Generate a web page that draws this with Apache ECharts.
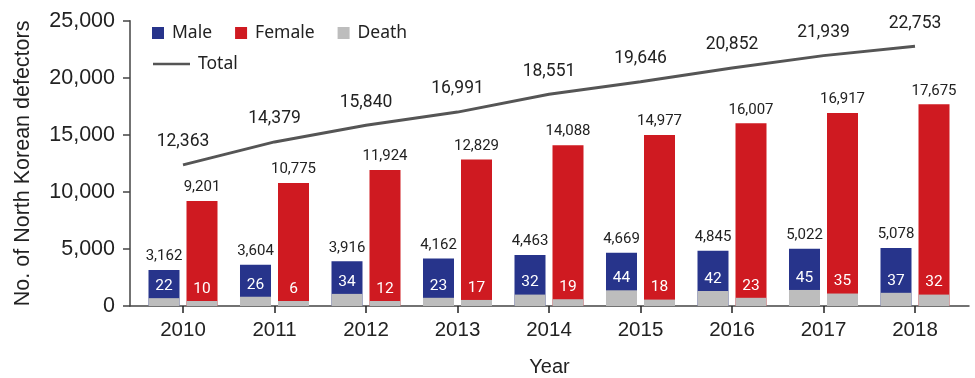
<!DOCTYPE html>
<html>
<head>
<meta charset="utf-8">
<script src="https://cdn.jsdelivr.net/npm/echarts@6/dist/echarts.min.js"></script>
<style>
  html, body { margin: 0; padding: 0; background: #fff; }
  #chart { width: 975px; height: 378px; }
</style>
</head>
<body>
<div id="chart"></div>
<script>
// Annual counts of North Korean defectors, by sex, with deaths
const years = ['2010', '2011', '2012', '2013', '2014', '2015', '2016', '2017', '2018'];
const male = [3162, 3604, 3916, 4162, 4463, 4669, 4845, 5022, 5078];
const female = [9201, 10775, 11924, 12829, 14088, 14977, 16007, 16917, 17675];
const total = [12363, 14379, 15840, 16991, 18551, 19646, 20852, 21939, 22753];
const deathMale = [22, 26, 34, 23, 32, 44, 42, 45, 37];
const deathFemale = [10, 6, 12, 17, 19, 18, 23, 35, 32];

const C_MALE = '#27348b';
const C_FEMALE = '#cf1a21';
const C_DEATH = '#bdbdbd';
const C_TOTAL = '#555555';
const AXIS_FONT = '"Liberation Sans", Arial, sans-serif';
const LABEL_FONT = 'Roboto, "Noto Sans", sans-serif';
const LEGEND_FONT = '"Noto Sans", sans-serif';

const fmt = v => Number(v).toLocaleString('en-US');

const barCommon = {
  type: 'bar',
  barWidth: 31,
  barGap: '22.6%'
};

const chart = echarts.init(document.getElementById('chart'), null, { renderer: 'canvas' });

chart.setOption({
  animation: false,
  textStyle: { fontFamily: LABEL_FONT },
  grid: [
    // plotting area
    { left: 137.25, right: 14.25, top: 20.7, bottom: 72, outerBoundsMode: 'none' },
    // axis frame (slightly wider than the plotting area)
    { left: 130, right: 6, top: 20.7, bottom: 72, outerBoundsMode: 'none' }
  ],
  legend: [
    {
      left: 152, top: 24, padding: 0,
      itemWidth: 12, itemHeight: 12, itemGap: 23,
      icon: 'rect',
      textStyle: { fontFamily: LEGEND_FONT, fontSize: 17.5, color: '#222', padding: [0, 0, 0, 3] },
      data: ['Male', 'Female', 'Death']
    },
    {
      left: 153, top: 55, padding: 0,
      itemWidth: 37, itemHeight: 14,
      textStyle: { fontFamily: LEGEND_FONT, fontSize: 17.5, color: '#222', padding: [0, 0, 0, 3] },
      data: [{ name: 'Total', icon: 'path://M0,6 L37,6 L37,8.6 L0,8.6 Z' }]
    }
  ],
  xAxis: [
    {
      type: 'category', gridIndex: 0, data: years,
      axisLine: { show: false },
      axisTick: { show: true, alignWithLabel: true, length: 7, lineStyle: { color: '#222', width: 1.5 } },
      axisLabel: { fontFamily: AXIS_FONT, fontSize: 20.5, color: '#222', margin: 14 }
    },
    {
      type: 'category', gridIndex: 0, data: years, show: false
    },
    {
      type: 'category', gridIndex: 1, data: years,
      axisLine: { show: true, lineStyle: { color: '#444', width: 1.5 } },
      axisTick: { show: false },
      axisLabel: { show: false },
      name: 'Year', nameLocation: 'middle', nameGap: 51,
      nameTextStyle: { fontFamily: AXIS_FONT, fontSize: 20, color: '#222' }
    }
  ],
  yAxis: [
    { type: 'value', gridIndex: 0, min: 0, max: 25000, show: false },
    { type: 'value', gridIndex: 0, min: 0, max: 800, show: false },
    {
      type: 'value', gridIndex: 1, min: 0, max: 25000, interval: 5000,
      axisLine: { show: true, lineStyle: { color: '#444', width: 1.5 } },
      axisTick: { show: true, length: 7, lineStyle: { color: '#444', width: 1.5 } },
      splitLine: { show: false },
      axisLabel: { fontFamily: AXIS_FONT, fontSize: 21.5, color: '#222', margin: 15, formatter: fmt },
      name: 'No. of North Korean defectors', nameLocation: 'middle', nameGap: 96,
      nameTextStyle: { fontFamily: AXIS_FONT, fontSize: 21.5, color: '#222' }
    }
  ],
  series: [
    Object.assign({}, barCommon, {
      name: 'Male', xAxisIndex: 0, yAxisIndex: 0, data: male,
      itemStyle: { color: C_MALE },
      label: { show: true, position: 'top', distance: 6, fontFamily: LABEL_FONT, fontSize: 15, color: '#222', formatter: p => fmt(p.value) }
    }),
    Object.assign({}, barCommon, {
      name: 'Female', xAxisIndex: 0, yAxisIndex: 0, data: female,
      itemStyle: { color: C_FEMALE },
      label: { show: true, position: 'top', distance: 6, fontFamily: LABEL_FONT, fontSize: 15, color: '#222', formatter: p => fmt(p.value) }
    }),
    Object.assign({}, barCommon, {
      name: 'Death', xAxisIndex: 1, yAxisIndex: 1, data: deathMale, barMinHeight: 5,
      itemStyle: { color: C_DEATH }, z: 3,
      label: { show: true, position: 'top', distance: 4, fontFamily: LABEL_FONT, fontSize: 15.5, color: '#fff' }
    }),
    Object.assign({}, barCommon, {
      name: 'Death', xAxisIndex: 1, yAxisIndex: 1, data: deathFemale, barMinHeight: 5,
      itemStyle: { color: C_DEATH }, z: 3,
      label: { show: true, position: 'top', distance: 4, fontFamily: LABEL_FONT, fontSize: 15.5, color: '#fff' }
    }),
    {
      name: 'Total', type: 'line', xAxisIndex: 0, yAxisIndex: 0, data: total,
      symbol: 'circle', symbolSize: 0, z: 5,
      lineStyle: { color: C_TOTAL, width: 3 },
      itemStyle: { color: C_TOTAL },
      label: { show: true, position: 'top', distance: 14, fontFamily: LABEL_FONT, fontSize: 17.5, color: '#222', formatter: p => fmt(p.value) }
    }
  ]
});
</script>
</body>
</html>
